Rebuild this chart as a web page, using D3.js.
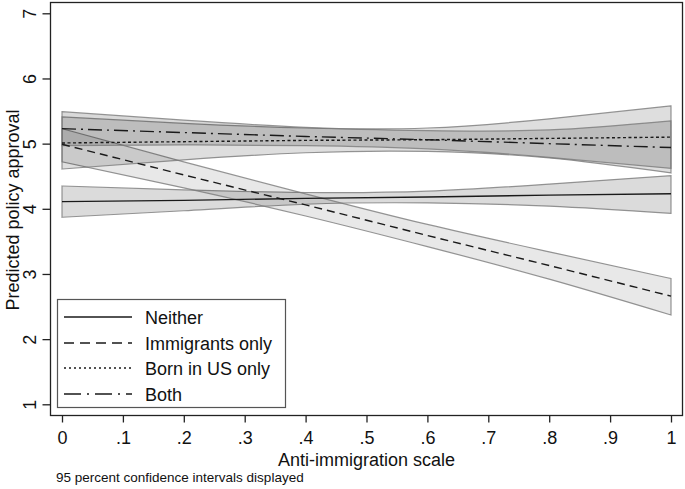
<!DOCTYPE html>
<html>
<head>
<meta charset="utf-8">
<script src="https://cdn.jsdelivr.net/npm/d3@7"></script>
<style>
  body { margin: 0; background: #fff; }
  svg text { font-family: "Liberation Sans", Arial, sans-serif; fill: #111; }
</style>
</head>
<body>
<svg id="chart"></svg>
<script>
const xPoints = [0, 0.2, 0.4, 0.6, 0.8, 1];

const seriesNames = ["Neither", "Immigrants only", "Born in US only", "Both"];

// predicted approval and 95% CI (lower / upper) at each x point
const neitherMean  = [4.11, 4.13, 4.16, 4.18, 4.21, 4.23];
const neitherLow   = [3.87, 3.97, 4.07, 4.09, 4.04, 3.93];
const neitherHigh  = [4.35, 4.29, 4.25, 4.27, 4.38, 4.51];

const immigMean    = [4.99, 4.52, 4.06, 3.59, 3.13, 2.66];
const immigLow     = [4.72, 4.32, 3.89, 3.42, 2.92, 2.37];
const immigHigh    = [5.23, 4.72, 4.23, 3.76, 3.34, 2.93];

const bornUSMean   = [5.01, 5.03, 5.05, 5.06, 5.08, 5.10];
const bornUSLow    = [4.61, 4.75, 4.86, 4.88, 4.78, 4.55];
const bornUSHigh   = [5.41, 5.31, 5.24, 5.24, 5.38, 5.58];

const bothMean     = [5.23, 5.17, 5.11, 5.06, 5.00, 4.94];
const bothLow      = [4.97, 4.98, 4.97, 4.92, 4.79, 4.62];
const bothHigh     = [5.49, 5.36, 5.25, 5.20, 5.21, 5.35];

const xTicks = [0, 0.1, 0.2, 0.3, 0.4, 0.5, 0.6, 0.7, 0.8, 0.9, 1];
const yTicks = [1, 2, 3, 4, 5, 6, 7];

const width = 685, height = 489;
const frame = { left: 50.5, right: 682.5, top: 2.5, bottom: 415.5 };

const svg = d3.select("#chart").attr("width", width).attr("height", height);

const x = d3.scaleLinear().domain([0, 1]).range([62, 671]);
const y = d3.scaleLinear().domain([1, 7]).range([404.3, 13.3]);

const styles = [
    { mean: neitherMean, low: neitherLow, high: neitherHigh, dash: null, legendDash: null, fillOp: 0.14 },
    { mean: immigMean, low: immigLow, high: immigHigh, dash: "8,5", legendDash: "10,6", fillOp: 0.09 },
    { mean: bornUSMean, low: bornUSLow, high: bornUSHigh, dash: "3,2.5", legendDash: "2,3", fillOp: 0.13 },
    { mean: bothMean, low: bothLow, high: bothHigh, dash: "14,5,2,5", legendDash: "17,6,2,6", fillOp: 0.15 }
];

// plot frame
svg.append("rect")
    .attr("x", frame.left).attr("y", frame.top)
    .attr("width", frame.right - frame.left).attr("height", frame.bottom - frame.top)
    .attr("fill", "none").attr("stroke", "#222").attr("stroke-width", 1.3);

// confidence bands
const area = d3.area()
    .x((d, i) => x(xPoints[i]))
    .y0(d => y(d[0]))
    .y1(d => y(d[1]))
    .curve(d3.curveNatural);

styles.forEach(s => {
    const bandData = xPoints.map((_, i) => [s.low[i], s.high[i]]);
    svg.append("path")
        .datum(bandData)
        .attr("d", area)
        .attr("fill", "#000")
        .attr("fill-opacity", s.fillOp)
        .attr("stroke", "#7a7a7a")
        .attr("stroke-width", 1.2)
        .attr("stroke-opacity", 0.8);
});

// predicted lines
const line = d3.line()
    .x((d, i) => x(xPoints[i]))
    .y(d => y(d));

styles.forEach(s => {
    svg.append("path")
        .datum(s.mean)
        .attr("d", line)
        .attr("fill", "none")
        .attr("stroke", "#1a1a1a")
        .attr("stroke-width", 1.4)
        .attr("stroke-dasharray", s.dash);
});

// y axis
const gY = svg.append("g").attr("transform", `translate(${frame.left},0)`)
    .call(d3.axisLeft(y).tickValues(yTicks).tickSize(8).tickFormat(d3.format("d")));
gY.select(".domain").remove();
gY.selectAll("line").attr("stroke", "#222").attr("stroke-width", 1.3);
gY.selectAll("text")
    .attr("x", null).attr("dy", null)
    .attr("transform", "translate(-14.5,0) rotate(-90)")
    .attr("text-anchor", "middle")
    .style("font-size", "18px")
    .style("font-family", "Liberation Sans, Arial, sans-serif")
    .attr("fill", "#111");

// x axis
const gX = svg.append("g").attr("transform", `translate(0,${frame.bottom})`)
    .call(d3.axisBottom(x).tickValues(xTicks).tickSize(7)
        .tickFormat(d => d === 0 ? "0" : d === 1 ? "1" : d3.format(".1f")(d).replace(/^0/, "")));
gX.select(".domain").remove();
gX.selectAll("line").attr("stroke", "#222").attr("stroke-width", 1.3);
gX.selectAll("text")
    .attr("y", 28.5).attr("dy", null)
    .style("font-size", "18px")
    .style("font-family", "Liberation Sans, Arial, sans-serif")
    .attr("fill", "#111");

// axis titles
svg.append("text")
    .attr("x", (x(0) + x(1)) / 2).attr("y", 466)
    .attr("text-anchor", "middle")
    .style("font-size", "18px")
    .text("Anti-immigration scale");

svg.append("text")
    .attr("transform", "translate(18.5,210) rotate(-90)")
    .attr("text-anchor", "middle")
    .style("font-size", "18px")
    .text("Predicted policy approval");

svg.append("text")
    .attr("x", 56).attr("y", 482)
    .style("font-size", "13.5px")
    .text("95 percent confidence intervals displayed");

// legend
const legend = svg.append("g");
legend.append("rect")
    .attr("x", 57.5).attr("y", 299.5).attr("width", 228).attr("height", 108)
    .attr("fill", "#fff").attr("stroke", "#555").attr("stroke-width", 1.2);

const legendY = [317, 343, 368, 394];
seriesNames.forEach((name, i) => {
    legend.append("line")
        .attr("x1", 64).attr("x2", 132)
        .attr("y1", legendY[i]).attr("y2", legendY[i])
        .attr("stroke", "#1a1a1a").attr("stroke-width", 1.4)
        .attr("stroke-dasharray", styles[i].legendDash);
    legend.append("text")
        .attr("x", 145).attr("y", legendY[i] + 6.5)
        .style("font-size", "18px")
        .text(name);
});
</script>
</body>
</html>
